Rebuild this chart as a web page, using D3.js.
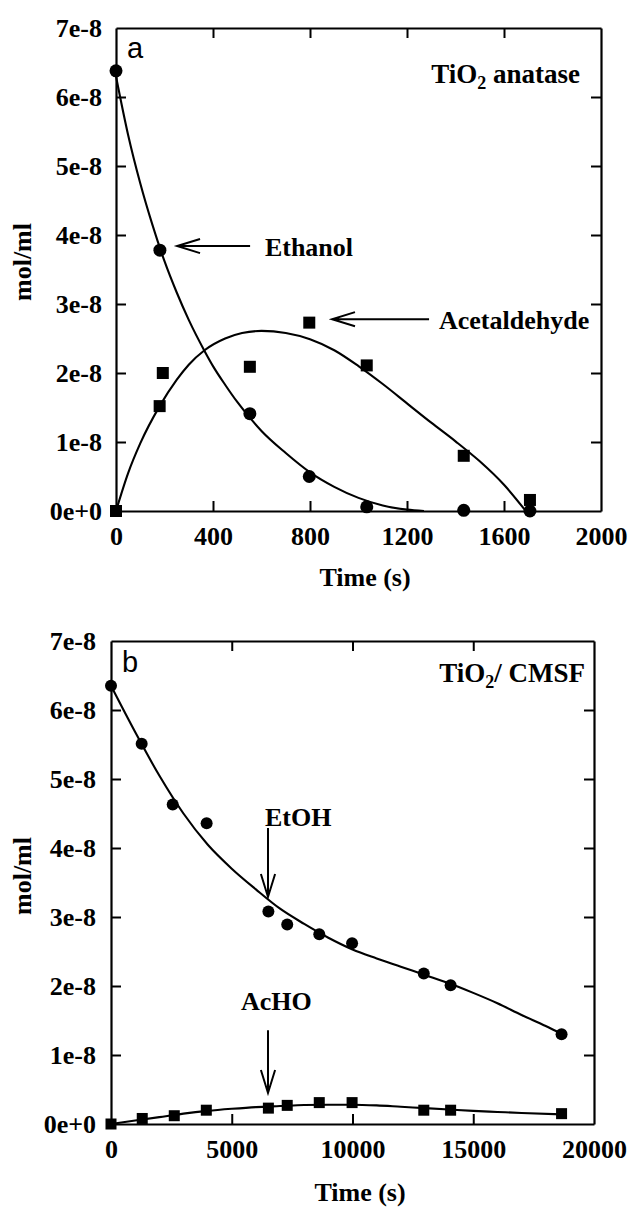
<!DOCTYPE html>
<html>
<head>
<meta charset="utf-8">
<script src="https://cdn.jsdelivr.net/npm/d3@7"></script>
<style>
  html, body { margin: 0; padding: 0; background: #fff; }
  svg { display: block; }
  .serif { font-family: "Liberation Serif", "Times New Roman", serif; font-weight: bold; }
  .sans { font-family: "Liberation Sans", Arial, sans-serif; }
</style>
</head>
<body>
<svg id="chart" width="630" height="1209"></svg>
<script>
// ---------- DATA (concentrations in units of 1e-8 mol/ml) ----------
// Panel a: TiO2 anatase
const timeA = [0, 181, 193, 552, 797, 1034, 1434, 1707];
const ethanolA_t = [0, 181, 552, 797, 1034, 1434, 1707];
const ethanolA = [6.38, 3.78, 1.41, 0.50, 0.06, 0.01, 0.0];
const acetA_t = [0, 180, 193, 552, 797, 1034, 1434, 1707];
const acetA = [0.0, 1.52, 2.00, 2.09, 2.73, 2.11, 0.80, 0.16];
// fitted curves
const ethanolFitA_t = [0, 50, 100, 150, 200, 250, 300, 365, 400, 450, 500, 550, 600, 700, 800, 900, 1000, 1100, 1200, 1270];
const ethanolFitA = [6.30, 5.45, 4.75, 4.15, 3.62, 3.17, 2.77, 2.32, 2.10, 1.83, 1.58, 1.36, 1.16, 0.84, 0.56, 0.35, 0.19, 0.08, 0.02, 0.0];
const acetFitA_t = [0, 50, 100, 180, 250, 300, 365, 450, 520, 600, 700, 800, 900, 1000, 1100, 1200, 1300, 1400, 1500, 1600, 1690];
const acetFitA = [0.0, 0.55, 0.98, 1.52, 1.90, 2.12, 2.33, 2.50, 2.58, 2.61, 2.58, 2.49, 2.33, 2.10, 1.84, 1.56, 1.28, 1.01, 0.72, 0.38, 0.0];

// Panel b: TiO2 / CMSF
const timeB = [0, 1270, 2555, 3960, 6517, 7297, 8624, 9983, 12952, 14063, 18657];
const etohB = [6.35, 5.51, 4.63, 4.36, 3.08, 2.89, 2.75, 2.62, 2.18, 2.01, 1.30];
const achoB_t = [0, 1294, 2620, 3947, 6517, 7297, 8624, 9983, 12952, 14063, 18657];
const achoB = [0.0, 0.08, 0.12, 0.20, 0.23, 0.27, 0.31, 0.31, 0.20, 0.20, 0.15];
const etohFitB_t = [0, 1000, 2000, 3000, 4000, 5000, 6000, 7000, 8000, 9000, 10000, 11000, 12000, 13000, 14000, 15000, 16000, 17000, 18000, 18700];
const etohFitB = [6.35, 5.68, 5.05, 4.50, 4.05, 3.70, 3.40, 3.12, 2.90, 2.70, 2.53, 2.40, 2.28, 2.16, 2.04, 1.90, 1.75, 1.58, 1.42, 1.30];
const achoFitB_t = [0, 1000, 2000, 3000, 4000, 5000, 6000, 7000, 8000, 9000, 10000, 11000, 12000, 13000, 14000, 15000, 16000, 17000, 18657];
const achoFitB = [0.0, 0.05, 0.10, 0.15, 0.19, 0.22, 0.245, 0.26, 0.275, 0.28, 0.28, 0.27, 0.25, 0.23, 0.21, 0.19, 0.175, 0.16, 0.14];

// ticks
const yTicks = [0, 1, 2, 3, 4, 5, 6, 7];
const yTickLabels = ["0e+0", "1e-8", "2e-8", "3e-8", "4e-8", "5e-8", "6e-8", "7e-8"];
const xTicksA = [0, 400, 800, 1200, 1600, 2000];
const xTicksB = [0, 5000, 10000, 15000, 20000];

// ---------- DRAWING ----------
const svg = d3.select("#chart");

function zip(ts, vs) { return ts.map((t, i) => [t, vs[i]]); }

function panel(cfg) {
  const x = d3.scaleLinear().domain(cfg.xDomain).range([cfg.left, cfg.right]);
  const y = d3.scaleLinear().domain([0, 7]).range([cfg.bottom, cfg.top]);
  const g = svg.append("g");

  const styleAxis = sel => {
    sel.selectAll("path.domain").attr("stroke", "#000").attr("stroke-width", 2.2);
    sel.selectAll(".tick line").attr("stroke", "#000").attr("stroke-width", 2);
    sel.selectAll(".tick text").attr("class", "serif").attr("fill", "#000")
      .style("font-size", "26px");
  };

  g.append("g").attr("transform", `translate(0,${cfg.bottom})`)
    .call(d3.axisBottom(x).tickValues(cfg.xTicks).tickFormat(d3.format("d"))
      .tickSize(-10).tickSizeOuter(0).tickPadding(15.5))
    .call(styleAxis)
    .call(s => s.selectAll(".tick line").filter(d => d === cfg.xDomain[0] || d === cfg.xDomain[1]).remove());
  g.append("g").attr("transform", `translate(0,${cfg.top})`)
    .call(d3.axisTop(x).tickValues(cfg.xTicks.slice(1, -1)).tickFormat("")
      .tickSize(-10).tickSizeOuter(0))
    .call(styleAxis);
  g.append("g").attr("transform", `translate(${cfg.left},0)`)
    .call(d3.axisLeft(y).tickValues(yTicks).tickFormat((d, i) => yTickLabels[i])
      .tickSize(-10).tickSizeOuter(0).tickPadding(cfg.yPad))
    .call(styleAxis)
    .call(s => s.selectAll(".tick line").filter(d => d === 0 || d === 7).remove())
    .call(s => s.selectAll(".tick text").attr("dy", "0.34em"));
  g.append("g").attr("transform", `translate(${cfg.right},0)`)
    .call(d3.axisRight(y).tickValues(yTicks.slice(1, -1)).tickFormat("")
      .tickSize(-10).tickSizeOuter(0))
    .call(styleAxis);

  // axis titles
  g.append("text").attr("class", "serif").attr("x", cfg.xTitleX).attr("y", cfg.xTitleY)
    .attr("text-anchor", "middle").style("font-size", "26px").text("Time (s)");
  g.append("text").attr("class", "serif")
    .attr("transform", `translate(31,${cfg.yTitleY}) rotate(-90)`)
    .attr("text-anchor", "middle").style("font-size", "26px").text("mol/ml");

  // panel letter
  g.append("text").attr("class", "sans").attr("x", cfg.left + 11).attr("y", cfg.top + cfg.letterDy)
    .style("font-size", "29px").text(cfg.letter);

  // title with subscript
  const t = g.append("text").attr("class", "serif").attr("x", cfg.titleX).attr("y", cfg.titleY)
    .attr("text-anchor", "end").style("font-size", "27px");
  t.append("tspan").text("TiO");
  t.append("tspan").attr("dy", 6).style("font-size", "18px").text("2");
  t.append("tspan").attr("dy", -6).text(cfg.titleRest);

  // curves
  const line = d3.line().x(d => x(d[0])).y(d => y(d[1])).curve(d3.curveMonotoneX);
  cfg.fits.forEach(f => {
    g.append("path").datum(f).attr("d", line).attr("fill", "none")
      .attr("stroke", "#000").attr("stroke-width", 2.1);
  });

  // markers
  g.selectAll(null).data(cfg.circles).join("circle")
    .attr("cx", d => x(d[0])).attr("cy", d => y(d[1])).attr("r", cfg.r).attr("fill", "#000");
  g.selectAll(null).data(cfg.squares).join("rect")
    .attr("x", d => x(d[0]) - cfg.sq / 2).attr("y", d => y(d[1]) - cfg.sq / 2)
    .attr("width", cfg.sq).attr("height", cfg.sq).attr("fill", "#000");

  // annotations
  cfg.notes.forEach(n => {
    g.append("text").attr("class", "serif").attr("x", x(n.tx)).attr("y", y(n.ty))
      .style("font-size", "26px").text(n.text);
    const x1 = x(n.ax1), y1 = y(n.ay1), x2 = x(n.ax2), y2 = y(n.ay2);
    const ang = Math.atan2(y2 - y1, x2 - x1);
    const L = 24, hw = 0.3;
    const h1 = [x2 - L * Math.cos(ang - hw), y2 - L * Math.sin(ang - hw)];
    const h2 = [x2 - L * Math.cos(ang + hw), y2 - L * Math.sin(ang + hw)];
    g.append("path")
      .attr("d", `M${x1},${y1}L${x2},${y2}M${h1[0]},${h1[1]}L${x2},${y2}L${h2[0]},${h2[1]}`)
      .attr("fill", "none").attr("stroke", "#000").attr("stroke-width", 2);
  });
}

panel({
  xDomain: [0, 2000], xTicks: xTicksA,
  left: 116, right: 601, top: 28, bottom: 511, yPad: 14,
  xTitleX: 365, xTitleY: 586, yTitleY: 262,
  letter: "a", letterDy: 30,
  titleX: 580, titleY: 83, titleRest: " anatase",
  fits: [zip(ethanolFitA_t, ethanolFitA), zip(acetFitA_t, acetFitA)],
  circles: zip(ethanolA_t, ethanolA), squares: zip(acetA_t, acetA),
  r: 6.5, sq: 12,
  notes: [
    { text: "Ethanol", tx: 614, ty: 3.69, ax1: 553, ay1: 3.84, ax2: 252, ay2: 3.84 },
    { text: "Acetaldehyde", tx: 1332, ty: 2.64, ax1: 1291, ay1: 2.78, ax2: 891, ay2: 2.78 }
  ]
});

panel({
  xDomain: [0, 20000], xTicks: xTicksB,
  left: 111, right: 594, top: 641, bottom: 1124, yPad: 15,
  xTitleX: 360, xTitleY: 1201, yTitleY: 876,
  letter: "b", letterDy: 31,
  titleX: 585, titleY: 682, titleRest: "/ CMSF",
  fits: [zip(etohFitB_t, etohFitB), zip(achoFitB_t, achoFitB)],
  circles: zip(timeB, etohB), squares: zip(achoB_t, achoB),
  r: 6, sq: 11,
  notes: [
    { text: "EtOH", tx: 6377, ty: 4.32, ax1: 6501, ay1: 4.29, ax2: 6501, ay2: 3.29 },
    { text: "AcHO", tx: 5383, ty: 1.65, ax1: 6501, ay1: 1.36, ax2: 6501, ay2: 0.45 }
  ]
});
</script>
</body>
</html>
